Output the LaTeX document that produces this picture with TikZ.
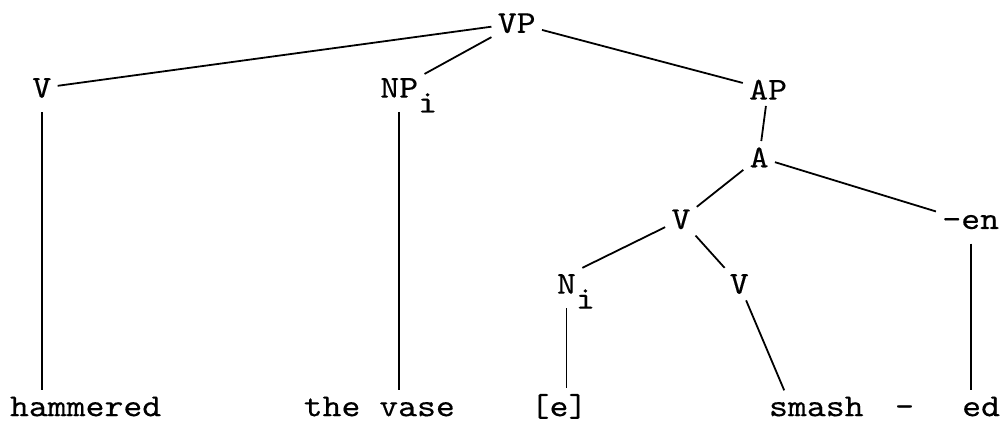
\documentclass[tikz,border=0pt]{standalone}
\usepackage{fontspec}
\usepackage{tikz}
\usetikzlibrary{calc}
\newfontfamily\treefont{lmmono10-regular.otf}[FakeStretch=1.13, FakeBold=0.3]
\newcommand{\subidx}[1]{\rlap{\smash{\raisebox{-7.5pt}{#1}}}}

\begin{document}
\begin{tikzpicture}[
    x=0.5pt, y=-0.5pt,
    cat/.style={anchor=base, inner sep=3pt, font=\treefont\fontsize{16pt}{19pt}\selectfont},
    word/.style={cat},
    branch/.style={line width=0.9pt},
    drop/.style={branch, shorten <=4pt}
]
\fill[white] (0,0) rectangle (1006,425);

\node[cat] (vp) at (519,33) {VP};
\node[cat] (v1) at (42,98) {V};
\node[cat] (np) at (401,98) {NP\subidx{i}};
\node[cat] (ap) at (771.5,100) {AP};
\node[cat] (a) at (762.5,168) {A};
\node[cat] (vm) at (684,230) {V};
\node[cat] (en) at (975,230) {-en};
\node[cat] (ni) at (569,295) {N\subidx{i}};
\node[cat] (vl) at (742.5,295) {V};

\node[word] (ham) at (86,418) {hammered};
\node[word] (vase) at (381,418) {the vase};
\node[word] (e) at (561.5,418) {[e]};
\node[word] (smash) at (820,418) {smash};
\node[word] (dash) at (908.5,418) {-};
\node[word] (ed) at (985.5,418) {ed};

\draw[branch] (vp) -- (v1);
\draw[branch] (vp) -- (np);
\draw[branch] (vp) -- (ap);
\draw[branch] (ap) -- (a);
\draw[branch] (a) -- (vm);
\draw[branch] (a) -- (en);
\draw[branch] (vm) -- (ni.north east);
\draw[branch] (vm) -- (vl);
\draw[branch] (vl) -- ($(smash.north west)!0.2!(smash.north east)$);

\draw[drop] (v1.south) -- (v1.south |- ham.north);
\draw[drop] (np.south) -- (np.south |- vase.north);
\draw[drop] (ni.south) -- (ni.south |- e.north);
\draw[drop] (en.south) -- (en.south |- ed.north);
\end{tikzpicture}
\end{document}
